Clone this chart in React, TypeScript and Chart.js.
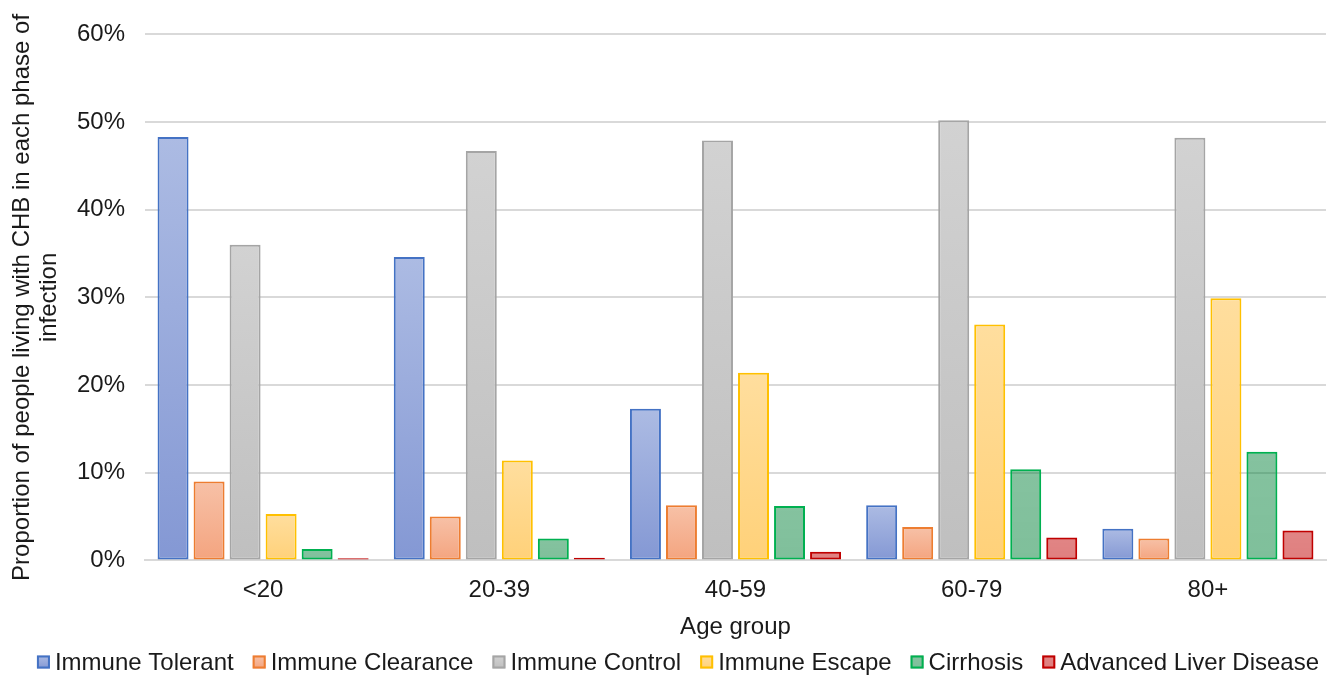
import React, { useEffect, useRef } from "react";
import { Chart, registerables } from "chart.js";

Chart.register(...registerables);

// Age bands on the x axis
const ageGroups = ["<20", "20-39", "40-59", "60-79", "80+"];

// Share (%) of people living with CHB in each phase, by age band
const immuneTolerant = [48.3, 34.6, 17.3, 6.3, 3.6];
const immuneClearance = [9.0, 5.0, 6.3, 3.8, 2.5];
const immuneControl = [36.0, 46.7, 47.9, 50.2, 48.2];
const immuneEscape = [5.3, 11.4, 21.4, 26.9, 29.9];
const cirrhosis = [1.3, 2.5, 6.2, 10.4, 12.4];
const advancedLiverDisease = [0.25, 0.3, 1.0, 2.6, 3.4];

const phaseNames = [
  "Immune Tolerant",
  "Immune Clearance",
  "Immune Control",
  "Immune Escape",
  "Cirrhosis",
  "Advanced Liver Disease",
];
const phaseValues = [
  immuneTolerant,
  immuneClearance,
  immuneControl,
  immuneEscape,
  cirrhosis,
  advancedLiverDisease,
];

// y axis ticks (%)
const yMin = 0;
const yMax = 60;
const yStep = 10;

const yTitle = ["Proportion of people living with CHB in each phase of", "infection"];
const xTitle = "Age group";

// Border colour and vertical fill gradient (top, bottom) for each phase
const borderColors = ["#4472C4", "#ED7D31", "#A5A5A5", "#FFC000", "#00B050", "#C00000"];
const fillTop = [
  "#ACBBE3",
  "#F7C1A7",
  "#D2D2D2",
  "#FFDE9E",
  "rgba(0,128,55,0.48)",
  "rgba(192,0,0,0.48)",
];
const fillBottom = [
  "#8498D4",
  "#F4A47F",
  "#BFBFBF",
  "#FFD179",
  "rgba(0,128,55,0.50)",
  "rgba(192,0,0,0.50)",
];

const FONT = "'Liberation Sans', Arial, Helvetica, sans-serif";
const TEXT = "#1a1a1a";
const GRID = "#D9D9D9";

function barFill(index: number) {
  return (ctx: any) => {
    const chart = ctx.chart;
    if (ctx.type !== "data" || !chart.chartArea) return fillBottom[index];
    const y = chart.scales.y;
    const top = y.getPixelForValue(ctx.raw);
    const bottom = y.getPixelForValue(0);
    if (!isFinite(top) || Math.abs(bottom - top) < 1) return fillBottom[index];
    const g = chart.ctx.createLinearGradient(0, top, 0, bottom);
    g.addColorStop(0, fillTop[index]);
    g.addColorStop(1, fillBottom[index]);
    return g;
  };
}

// Legend row drawn under the axis title
const phaseLegend = {
  id: "phaseLegend",
  afterDraw(chart: any) {
    const { ctx, width } = chart;
    const box = 13;
    const gapText = 5;
    const gapItem = 19;
    const cy = 662;
    ctx.save();
    ctx.font = `24px ${FONT}`;
    ctx.textBaseline = "middle";
    ctx.textAlign = "left";
    const widths = phaseNames.map((n) => ctx.measureText(n).width);
    const total =
      widths.reduce((a, w) => a + box + gapText + w, 0) + gapItem * (phaseNames.length - 1);
    let x = width / 2 + 8 - total / 2;
    phaseNames.forEach((name, i) => {
      const top = cy - box / 2;
      const g = ctx.createLinearGradient(0, top, 0, top + box);
      g.addColorStop(0, fillTop[i]);
      g.addColorStop(1, fillBottom[i]);
      ctx.fillStyle = g;
      ctx.fillRect(x, top, box, box);
      ctx.strokeStyle = borderColors[i];
      ctx.lineWidth = 2;
      ctx.strokeRect(x + 1, top + 1, box - 2, box - 2);
      ctx.fillStyle = TEXT;
      ctx.fillText(name, x + box + gapText, cy + 1);
      x += box + gapText + widths[i] + gapItem;
    });
    ctx.restore();
  },
};

export default function App() {
  const canvasRef = useRef<HTMLCanvasElement | null>(null);

  useEffect(() => {
    const canvas = canvasRef.current;
    if (!canvas) return;
    const chart = new Chart(canvas, {
      type: "bar",
      data: {
        labels: ageGroups,
        datasets: phaseNames.map((name, i) => ({
          label: name,
          data: phaseValues[i],
          backgroundColor: barFill(i),
          borderColor: borderColors[i],
          borderWidth: 2,
          borderSkipped: false,
          categoryPercentage: 0.915,
          barPercentage: 0.86,
        })),
      },
      options: {
        animation: false,
        responsive: false,
        devicePixelRatio: 1,
        layout: { padding: { left: 0, right: 14, top: 34, bottom: 35.6 } },
        plugins: {
          legend: { display: false },
          tooltip: { enabled: false },
        },
        scales: {
          x: {
            grid: { display: false, drawTicks: false },
            border: { display: true, color: GRID, width: 2 },
            ticks: { color: TEXT, font: { family: FONT, size: 24 }, padding: 16 },
            title: {
              display: true,
              text: xTitle,
              color: TEXT,
              font: { family: FONT, size: 24 },
              padding: { top: 4, bottom: 3 },
            },
            afterFit: (s: any) => {
              s.height = 84;
            },
          },
          y: {
            min: yMin,
            max: yMax,
            grid: { color: GRID, lineWidth: 2, drawTicks: false },
            border: { display: false },
            ticks: {
              stepSize: yStep,
              color: TEXT,
              font: { family: FONT, size: 24 },
              padding: 20,
              callback: (v: any) => `${v}%`,
            },
            title: {
              display: true,
              text: yTitle,
              color: TEXT,
              font: { family: FONT, size: 24, lineHeight: 1.1 },
              padding: { top: 9.5, bottom: 0 },
            },
            afterFit: (s: any) => {
              s.width = 145;
            },
          },
        },
      },
      plugins: [phaseLegend],
    });
    return () => chart.destroy();
  }, []);

  return (
    <div style={{ position: "fixed", left: 0, top: 0, width: 1340, height: 680, background: "#fff" }}>
      <canvas ref={canvasRef} width={1340} height={680} />
    </div>
  );
}
